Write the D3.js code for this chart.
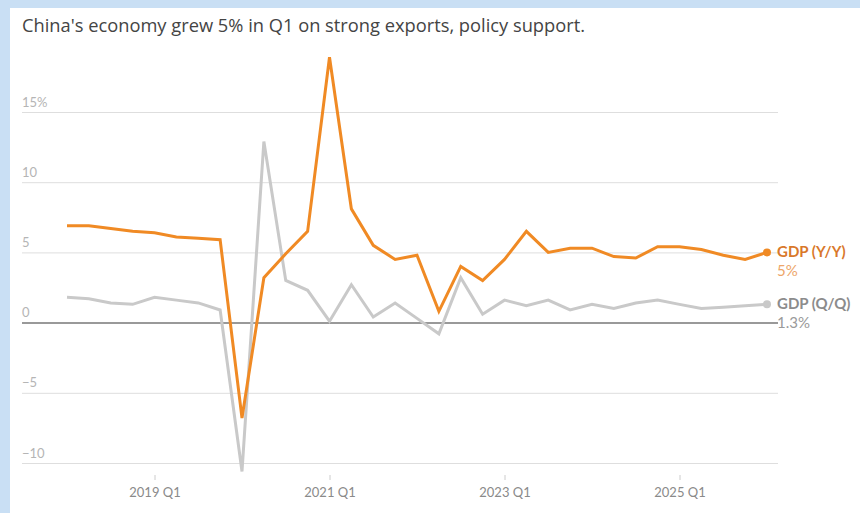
<!DOCTYPE html>
<meta charset="utf-8">
<style>
body { margin: 0; background: #c9dff4; }
svg { display: block; }
.title { font-family: "Open Sans", sans-serif; font-size: 18.3px; fill: #444; }
.yaxis text { font-family: Lato, sans-serif; font-size: 13px; fill: #b5b5b5; }
.xaxis text { font-family: Lato, sans-serif; font-size: 13px; fill: #8a8a8a; }
.lbl { font-family: Lato, sans-serif; font-size: 15px; }
</style>
<body>
<div id="chart"></div>
<script src="https://d3js.org/d3.v7.min.js"></script>
<script>

// quarters 2018 Q1 .. 2026 Q1
var quarters = ["2018 Q1","2018 Q2","2018 Q3","2018 Q4",
                "2019 Q1","2019 Q2","2019 Q3","2019 Q4",
                "2020 Q1","2020 Q2","2020 Q3","2020 Q4",
                "2021 Q1","2021 Q2","2021 Q3","2021 Q4",
                "2022 Q1","2022 Q2","2022 Q3","2022 Q4",
                "2023 Q1","2023 Q2","2023 Q3","2023 Q4",
                "2024 Q1","2024 Q2","2024 Q3","2024 Q4",
                "2025 Q1","2025 Q2","2025 Q3","2025 Q4",
                "2026 Q1"];

var gdpYoY = [6.9, 6.9, 6.7, 6.5,
              6.4, 6.1, 6.0, 5.9,
              -6.8, 3.2, 4.9, 6.5,
              18.9, 8.1, 5.5, 4.5,
              4.8, 0.8, 4.0, 3.0,
              4.5, 6.5, 5.0, 5.3,
              5.3, 4.7, 4.6, 5.4,
              5.4, 5.2, 4.8, 4.5,
              5.0];

var gdpQoQ = [1.8, 1.7, 1.4, 1.3,
              1.8, 1.6, 1.4, 0.9,
              -10.6, 12.9, 3.0, 2.3,
              0.1, 2.7, 0.4, 1.4,
              0.3, -0.8, 3.2, 0.6,
              1.6, 1.2, 1.6, 0.9,
              1.3, 1.0, 1.4, 1.6,
              1.3, 1.0, 1.1, 1.2,
              1.3];

var yTicks = [-10, -5, 0, 5, 10, 15];
var xTicks = [2019, 2021, 2023, 2025];

var width = 860, height = 513;

var svg = d3.select("#chart").append("svg")
    .attr("width", width)
    .attr("height", height);

// white panel
svg.append("rect")
    .attr("x", 10).attr("y", 8)
    .attr("width", width - 10).attr("height", height - 8)
    .attr("fill", "#fff");

svg.append("text")
    .attr("class", "title")
    .attr("x", 22).attr("y", 32)
    .text("China's economy grew 5% in Q1 on strong exports, policy support.");

function qToYear(q) {
  var p = q.split(" Q");
  return +p[0] + (+p[1] - 1) / 4;
}

var x = d3.scaleLinear().domain([2018, 2026]).range([67, 767]);
var y = d3.scaleLinear().domain([-10, 15]).range([463, 112]);

var gridLeft = 22, gridRight = 778;

var yAxis = svg.append("g")
    .attr("class", "yaxis")
    .attr("transform", "translate(" + gridLeft + ",0)")
    .call(d3.axisRight(y)
        .tickValues(yTicks)
        .tickSize(gridRight - gridLeft)
        .tickFormat(function(d) {
          var s = d < 0 ? "\u2212" + Math.abs(d) : "" + d;
          return d === 15 ? s + "%" : s;
        }));
yAxis.select(".domain").remove();
yAxis.selectAll("line")
    .attr("stroke", function(d) { return d === 0 ? "#777" : "#dedede"; })
    .attr("stroke-width", function(d) { return d === 0 ? 1.5 : 1; });
yAxis.selectAll("text")
    .attr("x", 0)
    .attr("dy", -6)
    .attr("text-anchor", "start");

var xAxis = svg.append("g")
    .attr("class", "xaxis")
    .attr("transform", "translate(0,475)")
    .call(d3.axisBottom(x)
        .tickValues(xTicks)
        .tickSize(5)
        .tickPadding(8)
        .tickFormat(function(d) { return d + " Q1"; }));
xAxis.select(".domain").remove();
xAxis.selectAll("line").attr("stroke", "#ccc");

var line = d3.line()
    .x(function(d) { return x(qToYear(d.q)); })
    .y(function(d) { return y(d.v); });

var qoq = quarters.map(function(q, i) { return {q: q, v: gdpQoQ[i]}; });
var yoy = quarters.map(function(q, i) { return {q: q, v: gdpYoY[i]}; });

svg.append("path")
    .datum(qoq)
    .attr("fill", "none")
    .attr("stroke", "#c9c9c9")
    .attr("stroke-width", 3)
    .attr("d", line);

svg.append("path")
    .datum(yoy)
    .attr("fill", "none")
    .attr("stroke", "#f08a24")
    .attr("stroke-width", 3)
    .attr("d", line);

var lastQ = qoq[qoq.length - 1], lastY = yoy[yoy.length - 1];

svg.append("circle")
    .attr("cx", x(qToYear(lastQ.q))).attr("cy", y(lastQ.v))
    .attr("r", 4).attr("fill", "#c9c9c9");
svg.append("circle")
    .attr("cx", x(qToYear(lastY.q))).attr("cy", y(lastY.v))
    .attr("r", 4).attr("fill", "#f08a24");

var lx = 777;
svg.append("text").attr("class", "lbl")
    .attr("x", lx).attr("y", y(lastY.v) + 5)
    .attr("font-weight", "bold").attr("fill", "#d9782a")
    .text("GDP (Y/Y)");
svg.append("text").attr("class", "lbl")
    .attr("x", lx).attr("y", y(lastY.v) + 24)
    .attr("fill", "#eda66a")
    .text(lastY.v + "%");
svg.append("text").attr("class", "lbl")
    .attr("x", lx).attr("y", y(lastQ.v) + 5)
    .attr("font-weight", "bold").attr("fill", "#8c8c8c")
    .text("GDP (Q/Q)");
svg.append("text").attr("class", "lbl")
    .attr("x", lx).attr("y", y(0) + 5)
    .attr("fill", "#9a9a9a")
    .text(lastQ.v + "%");

</script>
</body>
